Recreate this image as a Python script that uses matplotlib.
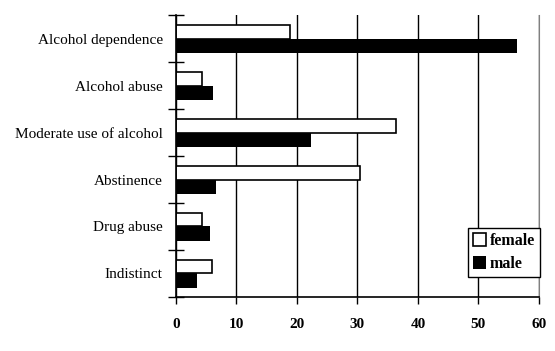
import numpy as np
import matplotlib.pyplot as plt

# Kategoriar og verdiar (prosent)
kategoriar = ["Alcohol dependence", "Alcohol abuse", "Moderate use of alcohol",
              "Abstinence", "Drug abuse", "Indistinct"]
female = [18.9, 4.3, 36.3, 30.5, 4.3, 5.9]
male = [56.3, 6.1, 22.3, 6.7, 5.7, 3.4]
xtikk = [0, 10, 20, 30, 40, 50, 60]

plt.rcParams["font.family"] = ["Liberation Serif", "DejaVu Serif"]

fig = plt.figure(figsize=(5.55, 3.51), dpi=100)
ax = fig.add_axes([0.317, 0.154, 0.654, 0.803])

y = np.arange(len(kategoriar))
ax.barh(y - 0.14, female, height=0.28, color="white", edgecolor="black",
        linewidth=1.2, label="female", zorder=3)
ax.barh(y + 0.155, male, height=0.31, color="black", edgecolor="black",
        linewidth=0, label="male", zorder=3)

ax.set_xlim(0, 60)
ax.set_ylim(len(kategoriar) - 0.5, -0.5)
ax.set_xticks(xtikk)
ax.set_xticklabels([str(v) for v in xtikk], fontsize=11, fontweight="bold")
ax.set_yticks(np.arange(-0.5, len(kategoriar), 1.0))
ax.set_yticklabels([])
ax.set_yticks(y, minor=True)
ax.set_yticklabels(kategoriar, minor=True, fontsize=11)
ax.tick_params(axis="y", which="major", direction="inout", length=11, width=1)
ax.tick_params(axis="y", which="minor", length=0, pad=9.5)
ax.tick_params(axis="x", direction="out", length=5, width=1, pad=10)

ax.grid(axis="x", color="black", linewidth=1, zorder=0)
ax.spines["top"].set_visible(False)
ax.spines["right"].set_color("gray")
for s in ["left", "bottom"]:
    ax.spines[s].set_linewidth(1.2)
    ax.spines[s].set_zorder(4)

leg = ax.legend(loc="lower right", bbox_to_anchor=(1.002, 0.071),
                borderaxespad=0, frameon=True, fancybox=False,
                edgecolor="black", framealpha=1,
                prop={"weight": "bold", "size": 11.5}, handlelength=0.8,
                handleheight=0.8, handletextpad=0.25, borderpad=0.3,
                labelspacing=0.45)
leg.get_frame().set_linewidth(1)

plt.savefig("out.png", dpi=100)
